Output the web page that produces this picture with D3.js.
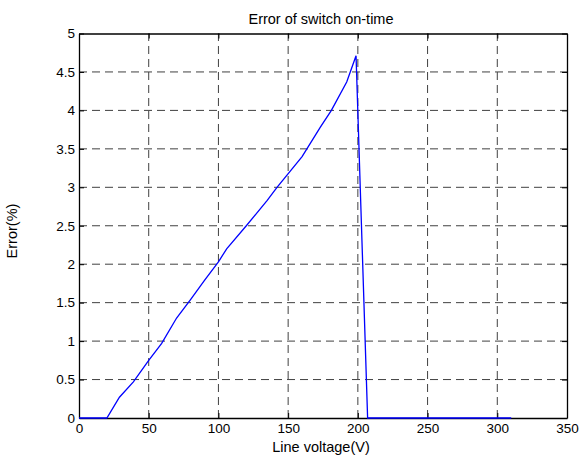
<!DOCTYPE html>
<html><head><meta charset="utf-8">
<script src="https://cdn.jsdelivr.net/npm/d3@7"></script>
<style>body{margin:0;background:#fff}svg{display:block}text{font-family:"Liberation Sans",Arial,sans-serif;fill:#000}</style>
</head><body><svg id="c" width="579" height="459"></svg>
<script>
const voltage = [0, 20, 29, 39, 50, 59.3, 70, 80, 90, 100, 105.9, 120, 135, 142, 160, 173, 181, 192, 198.7, 207, 310];
const errorPct = [0, 0, 0.27, 0.47, 0.75, 0.97, 1.30, 1.54, 1.79, 2.03, 2.20, 2.50, 2.83, 3.0, 3.40, 3.78, 4.0, 4.37, 4.71, 0, 0];
const xTicks = [0, 50, 100, 150, 200, 250, 300, 350];
const yTicks = [0, 0.5, 1, 1.5, 2, 2.5, 3, 3.5, 4, 4.5, 5];
const title = "Error of switch on-time";
const xLabel = "Line voltage(V)";
const yLabel = "Error(%)";

const svg = d3.select("#c");
const L = 79, R = 567, T = 33.5, B = 418;
const x = d3.scaleLinear().domain([0, 350]).range([L, R]);
const y = d3.scaleLinear().domain([0, 5]).range([B, T]);

// grid
const g = svg.append("g");
g.selectAll(".gx").data(xTicks.slice(1, -1)).enter().append("line")
  .attr("x1", d => x(d)).attr("x2", d => x(d)).attr("y1", B).attr("y2", T)
  .attr("stroke", "#404040").attr("stroke-width", 1).attr("stroke-dasharray", "8,5");
g.selectAll(".gy").data(yTicks.slice(1, -1)).enter().append("line")
  .attr("y1", d => y(d)).attr("y2", d => y(d)).attr("x1", L).attr("x2", R)
  .attr("stroke", "#404040").attr("stroke-width", 1).attr("stroke-dasharray", "8,5");

// axes
const fmt = d => String(d);
const ax = svg.append("g").attr("transform", `translate(0,${B})`)
  .call(d3.axisBottom(x).tickValues(xTicks).tickFormat(fmt).tickSizeInner(-5).tickSizeOuter(0).tickPadding(8));
const axT = svg.append("g").attr("transform", `translate(0,${T})`)
  .call(d3.axisTop(x).tickValues(xTicks).tickFormat("").tickSizeInner(-5).tickSizeOuter(0));
const ay = svg.append("g").attr("transform", `translate(${L},0)`)
  .call(d3.axisLeft(y).tickValues(yTicks).tickFormat(fmt).tickSizeInner(-5).tickSizeOuter(0).tickPadding(8));
const ayR = svg.append("g").attr("transform", `translate(${R},0)`)
  .call(d3.axisRight(y).tickValues(yTicks).tickFormat("").tickSizeInner(-5).tickSizeOuter(0));
[ax, axT, ay, ayR].forEach(a => {
  a.selectAll("text").style("font-size", "13.5px").attr("fill", "#000");
  a.selectAll("line").attr("stroke", "#000");
  a.select(".domain").attr("stroke", "#000").attr("stroke-width", 1.3);
});
ay.selectAll("text").attr("x", -4);
ax.selectAll("text").attr("y", 5);

// line
svg.append("path")
  .datum(voltage.map((v, i) => [v, errorPct[i]]))
  .attr("fill", "none").attr("stroke", "#0000ff").attr("stroke-width", 1.3)
  .attr("d", d3.line().x(d => x(d[0])).y(d => y(d[1])));

svg.append("text").attr("x", 321).attr("y", 24).attr("text-anchor", "middle")
  .style("font-size", "14.5px").text(title);
svg.append("text").attr("x", 321).attr("y", 452).attr("text-anchor", "middle")
  .style("font-size", "14.5px").text(xLabel);
svg.append("text").attr("transform", `translate(17,231) rotate(-90)`).attr("text-anchor", "middle")
  .style("font-size", "14.5px").text(yLabel);
</script></body></html>
